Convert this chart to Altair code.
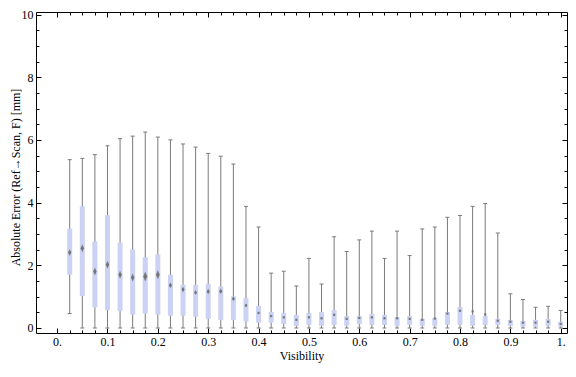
import altair as alt
import pandas as pd

# ---- data ----
visibility = [0.025, 0.05, 0.075, 0.1, 0.125, 0.15, 0.175, 0.2, 0.225, 0.25,
              0.275, 0.3, 0.325, 0.35, 0.375, 0.4, 0.425, 0.45, 0.475, 0.5,
              0.525, 0.55, 0.575, 0.6, 0.625, 0.65, 0.675, 0.7, 0.725, 0.75,
              0.775, 0.8, 0.825, 0.85, 0.875, 0.9, 0.925, 0.95, 0.975, 1.0]
whisker_low = [0.46, 0, 0, 0, 0, 0, 0, 0, 0, 0,
               0, 0, 0, 0, 0, 0, 0, 0, 0, 0,
               0, 0, 0, 0, 0, 0, 0, 0, 0, 0,
               0, 0, 0, 0, 0, 0, 0, 0, 0, 0]
q1 = [1.70, 1.02, 0.66, 0.57, 0.54, 0.43, 0.46, 0.43, 0.39, 0.39,
      0.36, 0.29, 0.26, 0.26, 0.20, 0.17, 0.17, 0.13, 0.07, 0.10,
      0.07, 0.10, 0.07, 0.13, 0.10, 0.10, 0.07, 0.10, 0.07, 0.07,
      0.10, 0.10, 0.07, 0.10, 0.10, 0.07, 0.04, 0.04, 0.07, 0.04]
median = [2.41, 2.54, 1.80, 2.02, 1.70, 1.61, 1.64, 1.70, 1.36, 1.23,
          1.13, 1.16, 1.17, 0.93, 0.72, 0.48, 0.38, 0.34, 0.26, 0.34,
          0.31, 0.42, 0.29, 0.32, 0.34, 0.31, 0.31, 0.29, 0.26, 0.30,
          0.46, 0.55, 0.53, 0.43, 0.23, 0.20, 0.17, 0.17, 0.20, 0.13]
q3 = [3.17, 3.88, 2.76, 3.60, 2.72, 2.51, 2.26, 2.35, 1.70, 1.38,
      1.38, 1.41, 1.32, 1.01, 0.95, 0.70, 0.51, 0.48, 0.42, 0.48,
      0.51, 0.57, 0.38, 0.38, 0.45, 0.42, 0.35, 0.38, 0.29, 0.32,
      0.51, 0.67, 0.42, 0.38, 0.29, 0.26, 0.23, 0.26, 0.29, 0.20]
whisker_high = [5.37, 5.41, 5.53, 5.81, 6.04, 6.12, 6.25, 6.09, 6.00, 5.87,
                5.77, 5.57, 5.48, 5.23, 3.88, 3.22, 1.75, 1.81, 1.34, 2.22,
                1.40, 2.91, 2.44, 2.81, 3.09, 2.22, 3.09, 2.31, 3.16, 3.22,
                3.53, 3.59, 3.88, 3.97, 3.03, 1.09, 0.91, 0.66, 0.69, 0.56]
notch = [0.11, 0.125, 0.125, 0.125, 0.125, 0.125, 0.156, 0.14, 0.094, 0.094,
         0.078, 0.094, 0.094, 0.078, 0.0625, 0.047, 0.04, 0.04, 0.04, 0.04,
         0.04, 0.04, 0.04, 0.04, 0.04, 0.04, 0.04, 0.04, 0.04, 0.04,
         0.04, 0.04, 0.04, 0.04, 0.04, 0.04, 0.04, 0.04, 0.04, 0.04]

x_major = [0.0, 0.1, 0.2, 0.3, 0.4, 0.5, 0.6, 0.7, 0.8, 0.9, 1.0]
x_minor = [0.025, 0.05, 0.075, 0.125, 0.15, 0.175, 0.225, 0.25, 0.275,
           0.325, 0.35, 0.375, 0.425, 0.45, 0.475, 0.525, 0.55, 0.575,
           0.625, 0.65, 0.675, 0.725, 0.75, 0.775, 0.825, 0.85, 0.875,
           0.925, 0.95, 0.975]
y_major = [0, 2, 4, 6, 8, 10]
y_minor = [0.5, 1, 1.5, 2.5, 3, 3.5, 4.5, 5, 5.5, 6.5, 7, 7.5, 8.5, 9, 9.5]

df = pd.DataFrame({
    "vis": visibility, "lo": whisker_low, "q1": q1, "med": median,
    "q3": q3, "hi": whisker_high, "notch": notch,
})

FONT = "Liberation Serif, Times New Roman, DejaVu Serif, serif"
WHISKER = "#7a7a7a"
BOX = "#cbd2f3"

xscale = alt.Scale(domain=[-0.032, 1.0025], nice=False, zero=False)
yscale = alt.Scale(domain=[-0.16, 10.08], nice=False, zero=False)


def ax(orient, values, size, labels=False, title=None, **kw):
    return alt.Axis(orient=orient, values=values, tickSize=size, offset=-size,
                    domain=False, grid=False, labels=labels, ticks=True,
                    tickColor="black", tickWidth=1, title=title, **kw)


x_labels = "datum.value == 0 ? '0.' : datum.value == 1 ? '1.' : format(datum.value, '.1f')"

base = alt.Chart(df)

whiskers = base.mark_rule(color=WHISKER, strokeWidth=1, clip=True).encode(
    x=alt.X("vis:Q", scale=xscale,
            axis=ax("bottom", x_major, 5, labels=True, title="Visibility",
                    labelExpr=x_labels, labelFont=FONT, labelFontSize=12,
                    labelColor="black", labelPadding=3, labelFlush=False,
                    labelOverlap=False, titleFont=FONT, titleFontSize=12,
                    titleFontWeight="normal", titleColor="black",
                    titlePadding=3)),
    y=alt.Y("lo:Q", scale=yscale,
            axis=ax("left", y_major, 5, labels=True,
                    title="Absolute Error (Ref\u2192Scan, F) [mm]",
                    labelFont=FONT, labelFontSize=12, labelColor="black",
                    labelPadding=3, labelFlush=False, labelOverlap=False,
                    titleFont=FONT, titleFontSize=12, titleFontWeight="normal",
                    titleColor="black", titleAngle=270, titleX=-22,
                    titleY=165, titleAlign="center",
                    titleBaseline="alphabetic")),
    y2="hi:Q",
)

cap_shape = "M-1,0L1,0"

caps_top = base.mark_point(shape=cap_shape, size=16, color=WHISKER,
                           strokeWidth=1, filled=False, opacity=1,
                           clip=True).encode(
    x=alt.X("vis:Q", scale=xscale, axis=ax("bottom", x_minor, 3)),
    y=alt.Y("hi:Q", scale=yscale, axis=ax("left", y_minor, 3)),
)

caps_bottom = base.mark_point(shape=cap_shape, size=16, color=WHISKER,
                              strokeWidth=1, filled=False, opacity=1,
                              clip=True).encode(
    x=alt.X("vis:Q", scale=xscale, axis=ax("top", x_major, 5)),
    y=alt.Y("lo:Q", scale=yscale, axis=ax("right", y_major, 5)),
)

boxes = base.mark_bar(color=BOX, size=5, clip=True).encode(
    x=alt.X("vis:Q", scale=xscale, axis=ax("top", x_minor, 3)),
    y=alt.Y("q1:Q", scale=yscale, axis=ax("right", y_minor, 3)),
    y2="q3:Q",
)

markers = base.mark_point(shape="M0,-1L0.42,0L0,1L-0.42,0Z", filled=True,
                          color="#6f6f6f", opacity=0.85, clip=True).encode(
    x=alt.X("vis:Q", scale=xscale, axis=None),
    y=alt.Y("med:Q", scale=yscale, axis=None),
    size=alt.Size("notch:Q", scale=alt.Scale(type="pow", exponent=2,
                                             domain=[0, 1], range=[0, 4080]),
                  legend=None),
)

dots = base.mark_point(shape="square", filled=True, size=5, color="#6f6f6f",
                       opacity=0.8, clip=True).encode(
    x=alt.X("vis:Q", scale=xscale, axis=None),
    y=alt.Y("med:Q", scale=yscale, axis=None),
)

chart = alt.layer(whiskers, caps_top, caps_bottom, boxes, markers, dots).resolve_axis(
    x="independent", y="independent"
).properties(
    width=531, height=321,
    autosize=alt.AutoSizeParams(type="none"),
    padding={"left": 28, "top": 4, "right": 1, "bottom": 32},
    background="white",
).configure_view(stroke="black", strokeWidth=1)

chart.save("out.html", embed_options={"renderer": "svg", "actions": False})
